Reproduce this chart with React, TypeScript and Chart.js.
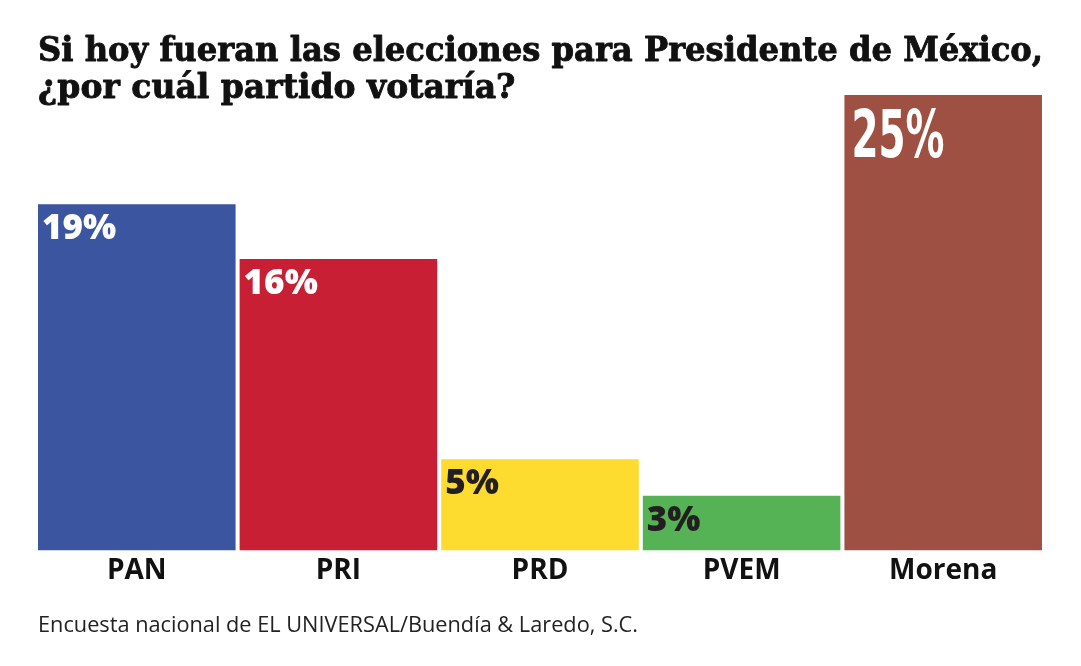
import React, { useEffect, useRef } from "react";
import { Chart, registerables } from "chart.js";

Chart.register(...registerables);

const titleLines = [
  "Si hoy fueran las elecciones para Presidente de México,",
  "¿por cuál partido votaría?",
];
const categories = ["PAN", "PRI", "PRD", "PVEM", "Morena"];
const values = [19, 16, 5, 3, 25];
const barColors = ["#3c55a0", "#c91f35", "#fedb2f", "#55b255", "#9e5142"];
const labelColors = ["#ffffff", "#ffffff", "#231f20", "#231f20", "#ffffff"];
const footer = "Encuesta nacional de EL UNIVERSAL/Buendía & Laredo, S.C.";

const decorPlugin = {
  id: "decor",
  afterDatasetsDraw(chart: any) {
    const ctx = chart.ctx;
    const meta = chart.getDatasetMeta(0);
    ctx.save();
    meta.data.forEach((bar: any, i: number) => {
      const left = bar.x - bar.width / 2;
      const txt = values[i] + "%";
      ctx.fillStyle = labelColors[i];
      ctx.textBaseline = "alphabetic";
      ctx.textAlign = "left";
      if (i === values.length - 1) {
        ctx.font = "bold 66px 'DejaVu Sans Condensed', 'Liberation Sans Narrow', sans-serif";
        const w = ctx.measureText(txt).width;
        ctx.save();
        ctx.translate(left + 7, bar.y + 62);
        ctx.scale(93 / w, 1);
        ctx.fillText(txt, 0, 0);
        ctx.restore();
      } else {
        ctx.font = "800 35px 'Open Sans', sans-serif";
        ctx.fillText(txt, left + 4, bar.y + 35);
      }
    });
    ctx.restore();
  },
  afterDraw(chart: any) {
    const ctx = chart.ctx;
    ctx.save();
    ctx.fillStyle = "#111111";
    ctx.strokeStyle = "#111111";
    ctx.lineWidth = 0.9;
    ctx.lineJoin = "round";
    ctx.textAlign = "left";
    ctx.textBaseline = "alphabetic";
    ctx.font = "bold 33px 'DejaVu Serif', serif";
    ctx.fillText(titleLines[0], 38, 61, 1005);
    ctx.strokeText(titleLines[0], 38, 61, 1005);
    ctx.fillText(titleLines[1], 38, 98);
    ctx.strokeText(titleLines[1], 38, 98);
    ctx.fillStyle = "#222222";
    ctx.font = "22px 'Open Sans', sans-serif";
    ctx.fillText(footer, 38, 632, 600);
    ctx.restore();
  },
};

export default function App() {
  const ref = useRef<HTMLCanvasElement | null>(null);
  useEffect(() => {
    if (!ref.current) return;
    const chart = new Chart(ref.current, {
      type: "bar",
      data: {
        labels: categories,
        datasets: [
          {
            data: values,
            backgroundColor: barColors,
            borderWidth: 0,
            categoryPercentage: 1,
            barPercentage: 0.98,
          },
        ],
      },
      options: {
        animation: false,
        responsive: true,
        maintainAspectRatio: false,
        layout: { padding: { left: 36, right: 37, top: 95, bottom: 74 } },
        plugins: {
          legend: { display: false },
          tooltip: { enabled: false },
          title: { display: false },
        },
        scales: {
          x: {
            grid: { display: false, drawTicks: false },
            border: { display: false },
            ticks: {
              color: "#111111",
              padding: 4,
              font: { family: "'Open Sans', sans-serif", size: 28, weight: "bold" },
            },
          },
          y: {
            display: false,
            min: 0,
            max: 25,
          },
        },
      },
      plugins: [decorPlugin],
    });
    return () => chart.destroy();
  }, []);
  return (
    <div style={{ position: "fixed", left: 0, top: 0, width: 1081, height: 666, background: "#ffffff" }}>
      <canvas ref={ref} />
    </div>
  );
}
